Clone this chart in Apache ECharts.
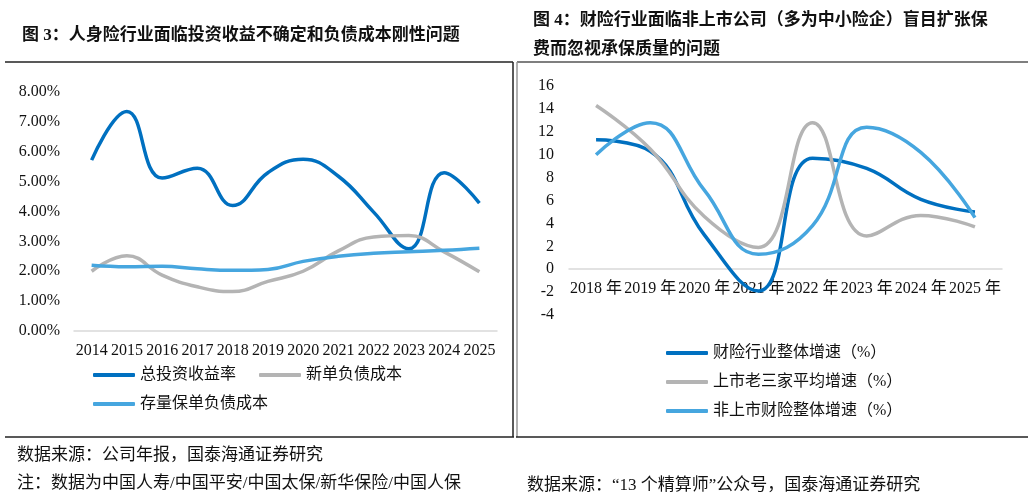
<!DOCTYPE html>
<html>
<head>
<meta charset="utf-8">
<script src="https://cdn.jsdelivr.net/npm/echarts@6/dist/echarts.min.js"></script>
<style>
  html, body { margin: 0; padding: 0; background: #fff; }
  #chart { width: 1032px; height: 500px; }
</style>
</head>
<body>
<div id="chart"></div>
<script>
// 图3 人身险
var lifeYears = ['2014', '2015', '2016', '2017', '2018', '2019', '2020', '2021', '2022', '2023', '2024', '2025'];
var investYield = [5.72, 7.35, 5.12, 5.45, 4.2, 5.3, 5.75, 5.18, 3.98, 2.75, 5.3, 4.28];
var newPolicyCost = [2.0, 2.52, 1.87, 1.48, 1.32, 1.66, 2.0, 2.68, 3.15, 3.2, 2.65, 1.98];
var stockPolicyCost = [2.2, 2.15, 2.17, 2.08, 2.03, 2.06, 2.33, 2.5, 2.6, 2.65, 2.7, 2.77];
var lifeNames = ['总投资收益率', '新单负债成本', '存量保单负债成本'];

// 图4 财险
var pcYears = ['2018 年', '2019 年', '2020 年', '2021 年', '2022 年', '2023 年', '2024 年', '2025 年'];
var industryGrowth = [11.3, 10.3, 3.0, -1.9, 9.7, 8.8, 6.1, 5.0];
var big3Growth = [14.3, 10.5, 4.6, 1.9, 12.8, 2.9, 4.7, 3.7];
var nonListedGrowth = [10.0, 12.8, 6.9, 1.3, 3.8, 12.4, 10.2, 4.5];
var pcNames = ['财险行业整体增速（%）', '上市老三家平均增速（%）', '非上市财险整体增速（%）'];

var colors = ['#0070C0', '#B4B4B4', '#46A6DF'];
var font = '"Liberation Serif", "Times New Roman", "Noto Sans CJK SC", serif';

function lineSeries(name, data, color, idx) {
  return {
    name: name,
    type: 'line',
    data: data,
    xAxisIndex: idx,
    yAxisIndex: idx,
    smooth: 0.45,
    showSymbol: false,
    symbol: 'none',
    lineStyle: { color: color, width: 3.5 },
    itemStyle: { color: color }
  };
}

function hline(x1, x2, y, color) {
  return { type: 'line', shape: { x1: x1, y1: y, x2: x2, y2: y }, style: { stroke: color, lineWidth: 1.5 } };
}
function vline(x, y1, y2, color) {
  return { type: 'line', shape: { x1: x, y1: y1, x2: x, y2: y2 }, style: { stroke: color, lineWidth: 1.5 } };
}
function txt(x, y, s, size) {
  return { type: 'text', left: x, top: y, style: { text: s, font: (size || 17) + 'px ' + font, fill: '#111' } };
}

var chart = echarts.init(document.getElementById('chart'));

var option = {
  animation: false,
  textStyle: { fontFamily: font },
  title: [
    {
      text: '图 3：人身险行业面临投资收益不确定和负债成本刚性问题',
      left: 17, top: 22,
      textStyle: { fontSize: 17, fontWeight: 'bold', color: '#111', fontFamily: font }
    },
    {
      text: '图 4：财险行业面临非上市公司（多为中小险企）盲目扩张保\n费而忽视承保质量的问题',
      left: 528, top: 1,
      textStyle: { fontSize: 17, fontWeight: 'bold', color: '#111', fontFamily: font, lineHeight: 29 }
    }
  ],
  grid: [
    { left: 74, width: 423, top: 92, height: 239 },
    { left: 569, width: 433, top: 86, height: 229 }
  ],
  xAxis: [
    {
      gridIndex: 0, type: 'category', data: lifeYears, boundaryGap: true,
      axisLine: { lineStyle: { color: '#D9D9D9', width: 1.5 } },
      axisTick: { show: false },
      axisLabel: { color: '#111', fontSize: 16, margin: 12, interval: 0, fontFamily: font }
    },
    {
      // axis line sits at value 0: 4 of 20 units above the grid bottom
      gridIndex: 1, type: 'category', data: pcYears, boundaryGap: true,
      offset: -229 * 4 / 20,
      axisLine: { onZero: false, lineStyle: { color: '#D9D9D9', width: 1.5 } },
      axisTick: { show: false },
      axisLabel: { color: '#111', fontSize: 16, margin: 12, interval: 0, fontFamily: font }
    }
  ],
  yAxis: [
    {
      gridIndex: 0, type: 'value', min: 0, max: 8, interval: 1,
      axisLine: { show: false }, axisTick: { show: false }, splitLine: { show: false },
      axisLabel: {
        color: '#111', fontSize: 16, margin: 14, fontFamily: font,
        formatter: function (v) { return v.toFixed(2) + '%'; }
      }
    },
    {
      gridIndex: 1, type: 'value', min: -4, max: 16, interval: 2,
      axisLine: { show: false }, axisTick: { show: false }, splitLine: { show: false },
      axisLabel: { color: '#111', fontSize: 16, margin: 15, fontFamily: font }
    }
  ],
  legend: [
    {
      data: lifeNames.slice(0, 2), left: 88, top: 362, itemGap: 23,
      icon: 'roundRect', itemWidth: 42, itemHeight: 4,
      textStyle: { fontSize: 16, color: '#111', fontFamily: font }
    },
    {
      data: lifeNames.slice(2), left: 88, top: 391,
      icon: 'roundRect', itemWidth: 42, itemHeight: 4,
      textStyle: { fontSize: 16, color: '#111', fontFamily: font }
    },
    {
      data: pcNames, orient: 'vertical', left: 661, top: 340, itemGap: 13,
      icon: 'roundRect', itemWidth: 42, itemHeight: 4,
      textStyle: { fontSize: 16, color: '#111', fontFamily: font }
    }
  ],
  series: [
    lineSeries(lifeNames[0], investYield, colors[0], 0),
    lineSeries(lifeNames[1], newPolicyCost, colors[1], 0),
    lineSeries(lifeNames[2], stockPolicyCost, colors[2], 0),
    lineSeries(pcNames[0], industryGrowth, colors[0], 1),
    lineSeries(pcNames[1], big3Growth, colors[1], 1),
    lineSeries(pcNames[2], nonListedGrowth, colors[2], 1)
  ],
  graphic: [
    // frames
    hline(5, 513, 62, '#222'),
    vline(513, 62, 437, '#222'),
    hline(5, 514, 437, '#222'),
    hline(517, 1028, 62, '#555'),
    vline(517, 62, 437, '#999'),
    hline(516, 1028, 437, '#222'),
    // notes
    txt(17, 447, '数据来源：公司年报，国泰海通证券研究'),
    txt(17, 475, '注：数据为中国人寿/中国平安/中国太保/新华保险/中国人保'),
    txt(527, 477, '数据来源：“13 个精算师”公众号，国泰海通证券研究')
  ]
};

chart.setOption(option);
</script>
</body>
</html>
